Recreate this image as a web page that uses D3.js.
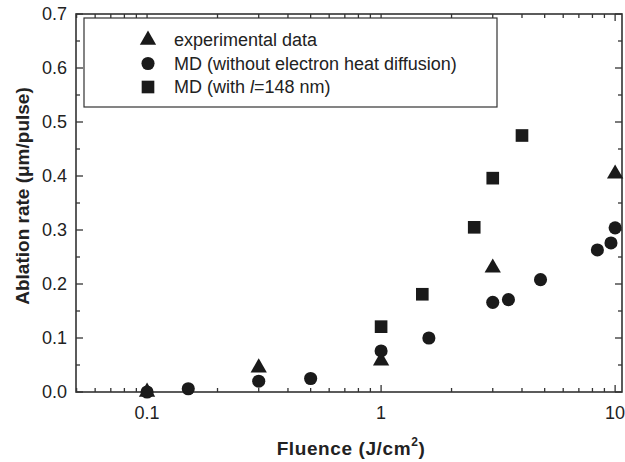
<!DOCTYPE html>
<html>
<head>
<meta charset="utf-8">
<script src="https://cdn.jsdelivr.net/npm/d3@7"></script>
<style>
  body { margin: 0; background: #fff; }
  svg { display: block; font-family: "Liberation Sans", Arial, sans-serif; }
</style>
</head>
<body>
<svg></svg>
<script>
// data
const expFluence = [0.1, 0.3, 1, 3, 10];
const expRate = [0.0, 0.045, 0.058, 0.23, 0.404];

const mdFluence = [0.1, 0.15, 0.3, 0.5, 1, 1.6, 3, 3.5, 4.8, 8.4, 9.6, 10];
const mdRate = [0.0, 0.006, 0.02, 0.025, 0.076, 0.10, 0.166, 0.171, 0.208, 0.263, 0.276, 0.304];

const mdlFluence = [1, 1.5, 2.5, 3, 4];
const mdlRate = [0.121, 0.181, 0.305, 0.396, 0.475];

const yTicks = [0.0, 0.1, 0.2, 0.3, 0.4, 0.5, 0.6, 0.7];
const xTicks = [0.1, 1, 10];
const legendLabels = ["experimental data", "MD (without electron heat diffusion)", "MD (with l=148 nm)"];

const width = 625, height = 462;
const svg = d3.select("svg").attr("width", width).attr("height", height);

const pLeft = 76, pRight = 622, pTop = 14, pBottom = 392;

const x = d3.scaleLog().domain([0.0497, 10.7]).range([pLeft, pRight]);
const y = d3.scaleLinear().domain([0, 0.7]).range([pBottom, pTop]);

const ink = "#222";
const axisColor = "#333";

// frame
svg.append("rect")
  .attr("x", pLeft).attr("y", pTop)
  .attr("width", pRight - pLeft).attr("height", pBottom - pTop)
  .attr("fill", "none").attr("stroke", axisColor).attr("stroke-width", 1.6);

// x ticks (minor + major), inward on bottom and top
const xMinor = [];
[0.01, 0.1, 1, 10].forEach(function (d) {
  for (let k = 1; k < 10; k++) {
    const v = +(d * k).toPrecision(6);
    if (v >= 0.05 && v <= 10.7) xMinor.push(v);
  }
});
const g = svg.append("g").attr("stroke", axisColor).attr("stroke-width", 1.3);
xMinor.forEach(function (v) {
  const major = xTicks.indexOf(v) >= 0;
  const len = major ? 7 : 4;
  g.append("line").attr("x1", x(v)).attr("x2", x(v)).attr("y1", pBottom).attr("y2", pBottom - len);
  g.append("line").attr("x1", x(v)).attr("x2", x(v)).attr("y1", pTop).attr("y2", pTop + len);
});

// y ticks every 0.05, major at 0.1
d3.range(0, 0.7001, 0.05).forEach(function (v, i) {
  const len = i % 2 === 0 ? 7 : 4;
  g.append("line").attr("x1", pLeft).attr("x2", pLeft + len).attr("y1", y(v)).attr("y2", y(v));
  g.append("line").attr("x1", pRight).attr("x2", pRight - len).attr("y1", y(v)).attr("y2", y(v));
});

// tick labels
svg.selectAll(".ylab").data(yTicks).enter().append("text")
  .attr("x", pLeft - 9).attr("y", function (d) { return y(d); })
  .attr("dy", "0.35em").attr("text-anchor", "end")
  .attr("font-size", 18).attr("fill", ink)
  .text(function (d) { return d.toFixed(1); });

svg.selectAll(".xlab").data(xTicks).enter().append("text")
  .attr("x", function (d) { return x(d); }).attr("y", pBottom + 27)
  .attr("text-anchor", "middle")
  .attr("font-size", 18).attr("fill", ink)
  .text(function (d) { return d; });

// axis titles
const xt = svg.append("text")
  .attr("x", 351).attr("y", 455).attr("text-anchor", "middle")
  .attr("font-size", 19).attr("font-weight", "bold").attr("letter-spacing", 0.6).attr("fill", ink);
xt.append("tspan").text("Fluence (J/cm");
xt.append("tspan").attr("font-size", 12).attr("dy", -9).text("2");
xt.append("tspan").attr("dy", 9).text(")");

svg.append("text")
  .attr("transform", "translate(29,196) rotate(-90)")
  .attr("text-anchor", "middle")
  .attr("font-size", 19).attr("font-weight", "bold").attr("fill", ink)
  .text("Ablation rate (\u03bcm/pulse)");

// markers
const tri = d3.symbol().type(d3.symbolTriangle).size(115);
const circ = d3.symbol().type(d3.symbolCircle).size(135);
const sq = d3.symbol().type(d3.symbolSquare).size(160);

function drawSeries(xs, ys, sym) {
  svg.append("g").selectAll("path")
    .data(xs.map(function (v, i) { return [v, ys[i]]; }))
    .enter().append("path")
    .attr("d", sym)
    .attr("fill", "#1a1a1a")
    .attr("transform", function (d) { return "translate(" + x(d[0]) + "," + y(d[1]) + ")"; });
}
drawSeries(expFluence, expRate, tri);
drawSeries(mdFluence, mdRate, circ);
drawSeries(mdlFluence, mdlRate, sq);

// legend
svg.append("rect")
  .attr("x", 84).attr("y", 18).attr("width", 413).attr("height", 89)
  .attr("fill", "#fff").attr("stroke", axisColor).attr("stroke-width", 1.2);

const legendSyms = [tri, circ, sq];
legendLabels.forEach(function (lab, i) {
  const ly = 40 + i * 23.5;
  svg.append("path").attr("d", legendSyms[i]).attr("fill", "#1a1a1a")
    .attr("transform", "translate(148," + ly + ")");
  const t = svg.append("text").attr("x", 174).attr("y", ly).attr("dy", "0.35em")
    .attr("font-size", 18).attr("fill", ink);
  if (i === 2) {
    t.append("tspan").text("MD (with ");
    t.append("tspan").attr("font-style", "italic").text("l");
    t.append("tspan").text("=148 nm)");
  } else {
    t.text(lab);
  }
});
</script>
</body>
</html>
